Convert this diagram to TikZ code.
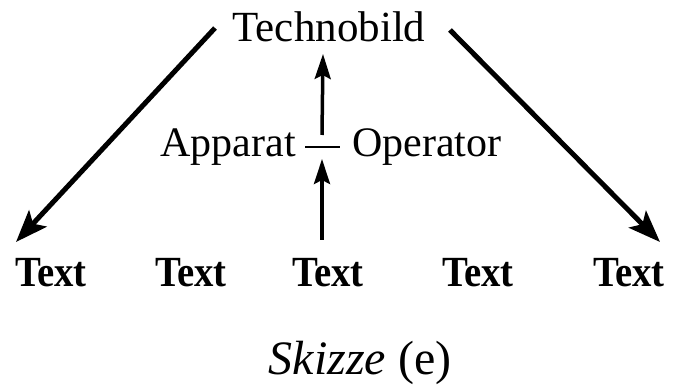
\documentclass[tikz,border=0pt]{standalone}
\usepackage{fontspec}
\setmainfont{Liberation Serif}
\usetikzlibrary{arrows.meta}
\begin{document}
\begin{tikzpicture}[x=1pt,y=1pt,
  lbl/.style={inner sep=0pt,font=\fontsize{43}{48}\selectfont},
  txt/.style={inner sep=0pt,font=\fontsize{43}{48}\selectfont\bfseries,xscale=0.9},
  bigarrow/.style={line width=5pt,-{Stealth[length=32pt,width=24pt,inset=7pt]}},
  midarrow/.style={line width=3.5pt,-{Stealth[length=25pt,width=16pt,inset=4pt]}}]
\useasboundingbox (0,0) rectangle (673,385);
\node[lbl,anchor=base] (tb) at (329,343) {Technobild};
\node[lbl,anchor=base east,font=\fontsize{42}{46}\selectfont] (ap) at (296,228) {Apparat};
\node[lbl,anchor=base west,font=\fontsize{42}{46}\selectfont] (op) at (352,228) {Operator};
\foreach \i/\x in {1/51,2/191,3/328,4/478,5/629}
  \node[txt,anchor=base] (t\i) at (\x,98) {Text};
\node[inner sep=0pt,anchor=base,font=\fontsize{48}{52}\selectfont] (sk) at (360,10) {\textit{Skizze} (e)};
% connector end points
\coordinate (tbl) at (215,357);
\coordinate (tbr) at (450,355);
\coordinate (tip1) at (16,143);
\coordinate (tip5) at (660,143);
\coordinate (upS) at (322,250);
\coordinate (upE) at (323,331);
\coordinate (loS) at (322,145);
\coordinate (loE) at (322,226);
\coordinate (dl) at (305,238);
\coordinate (dr) at (340,238);
\draw[bigarrow] (tbl) -- (tip1);
\draw[bigarrow] (tbr) -- (tip5);
\draw[midarrow] (upS) -- (upE);
\draw[midarrow] (loS) -- (loE);
\draw[line width=2pt] (dl) -- (dr);
\end{tikzpicture}
\end{document}
